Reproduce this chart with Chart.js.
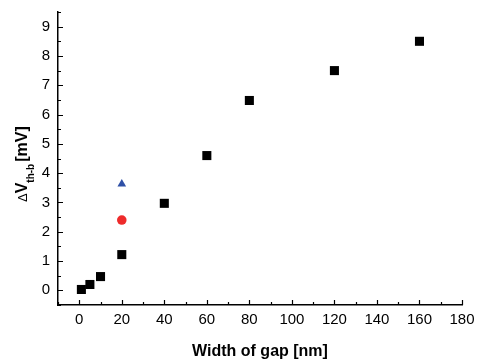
<!DOCTYPE html>
<html>
<head>
<meta charset="utf-8">
<script src="https://cdn.jsdelivr.net/npm/chart.js@4/dist/chart.umd.min.js"></script>
<style>
  html, body { margin: 0; padding: 0; background: #fff; }
  #wrap { width: 478px; height: 361px; position: relative; }
</style>
</head>
<body>
<div id="wrap"><canvas id="chart"></canvas></div>
<script>
// data
const gapWidths = [1, 5, 10, 20, 40, 60, 80, 120, 160];
const deltaV = [0.03, 0.2, 0.47, 1.22, 2.97, 4.6, 6.48, 7.5, 8.5];
const circleGap = [20];
const circleV = [2.4];
const triangleGap = [20];
const triangleV = [3.63];

const xTitle = 'Width of gap [nm]';
const font = "'Liberation Sans', Arial, sans-serif";

const toPoints = (xs, ys) => xs.map((x, i) => ({ x: x, y: ys[i] }));

// no label overflow padding, the layout padding decides the plot box
const noOverflow = scale => {
  scale.paddingTop = 0;
  scale.paddingBottom = 0;
  scale.paddingLeft = 0;
  scale.paddingRight = 0;
};

// inward major + minor ticks, and the rotated y title with subscript
const axisDecor = {
  id: 'axisDecor',
  afterDraw(chart) {
    const ctx = chart.ctx;
    const xs = chart.scales.x;
    const ys = chart.scales.y;
    const area = chart.chartArea;
    ctx.save();
    ctx.strokeStyle = '#000';
    ctx.lineWidth = 1.2;
    ctx.beginPath();
    for (let v = -10; v <= 180; v += 10) {
      const px = Math.round(xs.getPixelForValue(v)) + 0.5;
      const len = v % 20 === 0 ? 5 : 3;
      ctx.moveTo(px, area.bottom);
      ctx.lineTo(px, area.bottom - len);
    }
    for (let v = -0.5; v <= 9.5; v += 0.5) {
      const py = Math.round(ys.getPixelForValue(v)) + 0.5;
      const len = Number.isInteger(v) ? 5 : 3;
      ctx.moveTo(area.left, py);
      ctx.lineTo(area.left + len, py);
    }
    ctx.stroke();

    // y title: ΔV_th-b [mV]
    ctx.translate(27, 202);
    ctx.rotate(-Math.PI / 2);
    ctx.fillStyle = '#000';
    ctx.textBaseline = 'alphabetic';
    ctx.textAlign = 'left';
    let u = 0;
    ctx.font = '13px ' + font;
    ctx.fillText('\u0394', u, 0);
    u += ctx.measureText('\u0394').width;
    ctx.font = 'bold 16px ' + font;
    ctx.fillText('V', u, 0);
    u += ctx.measureText('V').width;
    ctx.font = 'bold 10px ' + font;
    ctx.fillText('th-b', u, 7);
    u += ctx.measureText('th-b').width + 2;
    ctx.font = 'bold 16px ' + font;
    ctx.fillText('[mV]', u, 0);
    ctx.restore();
  }
};

new Chart(document.getElementById('chart'), {
  type: 'scatter',
  data: {
    datasets: [
      {
        data: toPoints(gapWidths, deltaV),
        pointStyle: 'rect',
        pointRadius: 6.4,
        pointHoverRadius: 6.4,
        backgroundColor: '#000',
        borderWidth: 0,
      },
      {
        data: toPoints(circleGap, circleV),
        pointStyle: 'circle',
        pointRadius: 4.8,
        pointHoverRadius: 4.8,
        backgroundColor: '#ee2b2b',
        borderWidth: 0,
      },
      {
        data: toPoints(triangleGap, triangleV),
        pointStyle: 'triangle',
        pointRadius: 5,
        pointHoverRadius: 5,
        backgroundColor: '#2f50a6',
        borderWidth: 0,
      },
    ],
  },
  options: {
    responsive: true,
    maintainAspectRatio: false,
    animation: false,
    layout: {
      padding: { left: 0, top: 12, right: 16, bottom: 0 },
    },
    plugins: {
      legend: { display: false },
      tooltip: { enabled: false },
    },
    scales: {
      x: {
        type: 'linear',
        min: -10,
        max: 180,
        afterBuildTicks: scale => {
          scale.ticks = [0, 20, 40, 60, 80, 100, 120, 140, 160, 180].map(v => ({ value: v }));
        },
        afterFit: scale => {
          scale.height = 56;
          noOverflow(scale);
        },
        grid: { display: false, drawTicks: false },
        border: { display: true, color: '#000', width: 1.5 },
        ticks: {
          color: '#000',
          padding: 6,
          maxRotation: 0,
          font: { family: font, size: 15 },
        },
        title: {
          display: true,
          text: xTitle,
          color: '#000',
          font: { family: font, size: 16, weight: 'bold' },
          padding: { top: 9, bottom: 0 },
        },
      },
      y: {
        type: 'linear',
        min: -0.5,
        max: 9.5,
        afterBuildTicks: scale => {
          scale.ticks = [0, 1, 2, 3, 4, 5, 6, 7, 8, 9].map(v => ({ value: v }));
        },
        afterFit: scale => {
          scale.width = 58;
          noOverflow(scale);
        },
        grid: { display: false, drawTicks: false },
        border: { display: true, color: '#000', width: 1.5 },
        ticks: {
          color: '#000',
          padding: 8,
          font: { family: font, size: 15 },
        },
      },
    },
  },
  plugins: [axisDecor],
});
</script>
</body>
</html>
